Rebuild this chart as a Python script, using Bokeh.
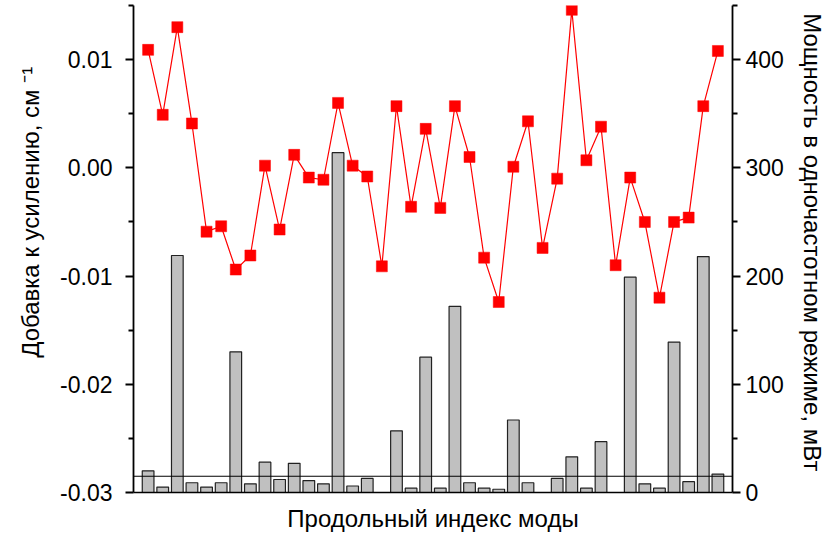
from bokeh.plotting import figure
from bokeh.models import (Range1d, LinearAxis, FixedTicker, PrintfTickFormatter,
                          Span, ColumnDataSource)
from bokeh.embed import file_html
from bokeh.resources import INLINE

# Longitudinal mode index
mode_index = list(range(1, 41))

# Gain addition, cm^-1 (red squares, left axis)
gain_add = [0.0109, 0.0049, 0.0130, 0.0041, -0.0059, -0.0054, -0.0094, -0.0081,
            0.0002, -0.0057, 0.0012, -0.0009, -0.0011, 0.0060, 0.0002, -0.0008,
            -0.0091, 0.0057, -0.0036, 0.0036, -0.0037, 0.0057, 0.0010, -0.0083,
            -0.0124, 0.0001, 0.0043, -0.0074, -0.0010, 0.0146, 0.0007, 0.0038,
            -0.0090, -0.0009, -0.0050, -0.0120, -0.0050, -0.0046, 0.0057, 0.0108]

# Single-frequency output power, mW (grey bars, right axis)
power_mw = [20, 5, 219, 9, 5, 9, 130, 8, 28, 12, 27, 11, 8, 314, 6, 13,
            0, 57, 4, 125, 4, 172, 9, 4, 3, 67, 9, 0, 13, 33, 4, 47,
            0, 199, 8, 4, 139, 10, 218, 17]

# Power threshold line, mW
threshold_mw = 15

FONT = "Liberation Sans"
NBSP = "\u00a0"

p = figure(width=832, height=540, output_backend="svg", toolbar_location=None,
           x_range=Range1d(0, 41), y_range=Range1d(-0.03, 0.015),
           min_border_left=133, min_border_right=100,
           min_border_top=5, min_border_bottom=48)
p.extra_y_ranges = {"power": Range1d(0, 450)}
p.outline_line_color = None
p.xgrid.visible = False
p.ygrid.visible = False
p.background_fill_color = "white"
p.border_fill_color = "white"

# Bottom axis: line and title only
xa = p.xaxis[0]
xa.ticker = FixedTicker(ticks=[])
xa.major_tick_line_color = None
xa.minor_tick_line_color = None
xa.major_tick_out = 0
xa.major_label_standoff = 0
xa.axis_line_width = 1.5
xa.axis_line_color = "black"
xa.axis_label = "Продольный индекс моды"
xa.axis_label_standoff = 12

left = p.yaxis[0]
left.ticker = FixedTicker(ticks=[-0.03, -0.02, -0.01, 0.0, 0.01],
                          minor_ticks=[-0.025, -0.015, -0.005, 0.005, 0.015])
left.formatter = PrintfTickFormatter(format="%.2f")
left.axis_label = NBSP * 11 + "Добавка к усилению, см \u207b\u00b9"
left.axis_label_standoff = 13

right = LinearAxis(y_range_name="power",
                   ticker=FixedTicker(ticks=[0, 100, 200, 300, 400],
                                      minor_ticks=[50, 150, 250, 350, 450]))
right.axis_label = "Мощность в одночастотном режиме, мВт" + NBSP * 2
right.axis_label_standoff = 12
p.add_layout(right, "right")

for ax in (left, right):
    ax.axis_line_width = 1.8
    ax.axis_line_color = "black"
    ax.major_tick_line_width = 1.8
    ax.minor_tick_line_width = 1.8
    ax.major_tick_out = 8
    ax.major_tick_in = 0
    ax.minor_tick_out = 5
    ax.minor_tick_in = 0
    ax.major_label_text_font = FONT
    ax.major_label_text_font_size = "23px"
    ax.major_label_text_color = "black"

left.major_label_standoff = 13
right.major_label_standoff = 5

for ax in (xa, left, right):
    ax.axis_label_text_font = FONT
    ax.axis_label_text_font_size = "24px"
    ax.axis_label_text_font_style = "normal"
    ax.axis_label_text_color = "black"

# Bars
bar_src = ColumnDataSource(dict(x=mode_index, top=power_mw))
p.vbar(x="x", top="top", bottom=0, width=0.8, source=bar_src,
       y_range_name="power", fill_color="#c0c0c0",
       line_color="#222222", line_width=1.2)

# Threshold line
p.add_layout(Span(location=threshold_mw, dimension="width", y_range_name="power",
                  line_color="black", line_width=1.2))

# Gain line with square markers
pt_src = ColumnDataSource(dict(x=mode_index, y=gain_add))
p.line("x", "y", source=pt_src, line_color="#ff0000", line_width=1.2)
p.scatter("x", "y", source=pt_src, marker="square", size=11,
          fill_color="#ff0000", line_color="#ff0000", line_width=0.5)

open("out.html", "w").write(file_html(p, INLINE))
